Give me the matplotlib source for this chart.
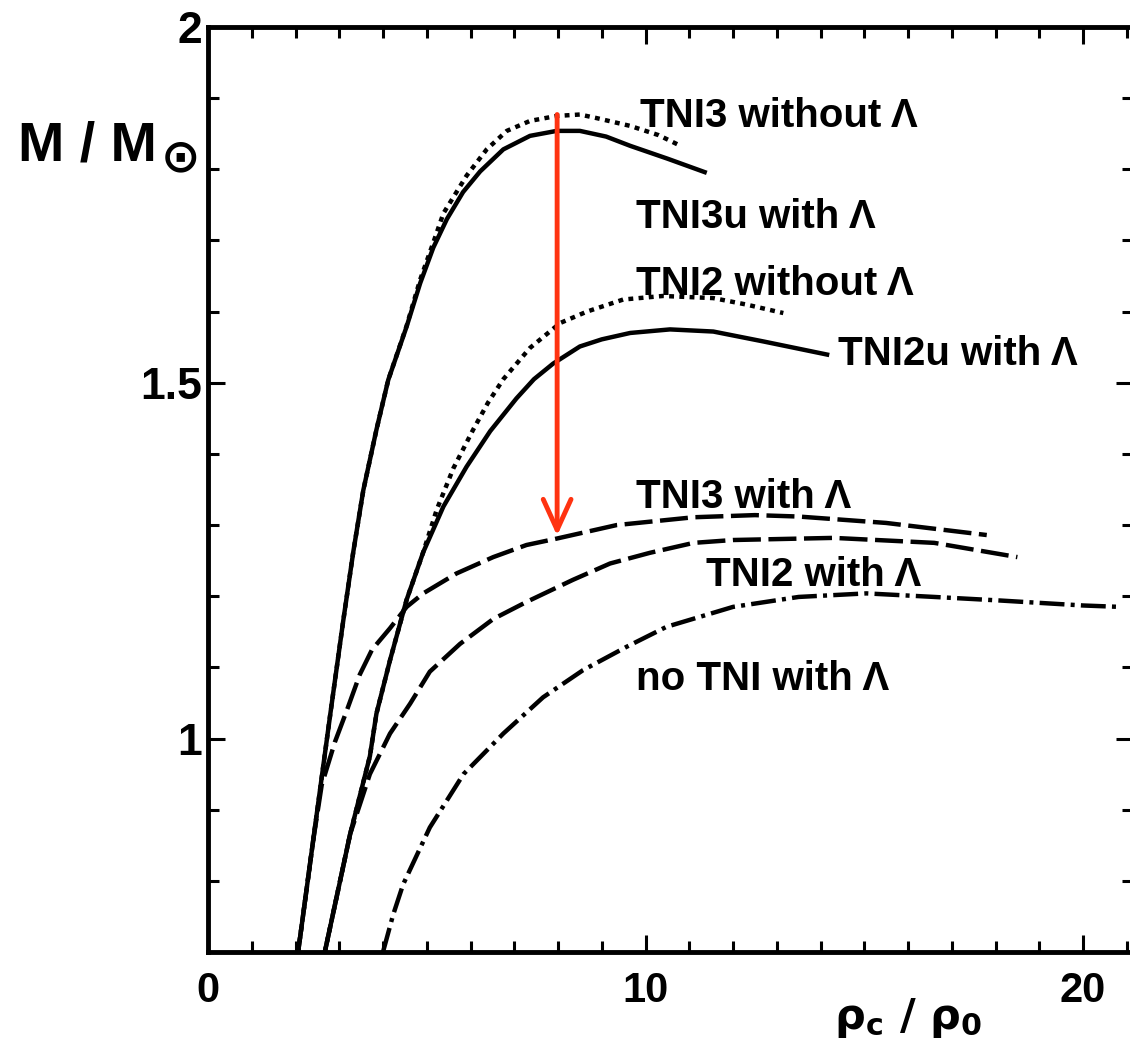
import matplotlib
matplotlib.use("Agg")
import matplotlib.pyplot as plt
from matplotlib.ticker import MultipleLocator, FixedLocator

plt.rcParams['font.family'] = ['Liberation Sans', 'DejaVu Sans']
plt.rcParams['font.weight'] = 'bold'
plt.rcParams['mathtext.fontset'] = 'dejavusans'

# ---------------- data ----------------
# TNI3u with Lambda (solid, upper)
tni3u_x = [2.06, 2.40, 2.79, 3.09, 3.32, 3.55, 3.85, 4.12, 4.54, 4.85, 5.15, 5.46, 5.83, 6.22, 6.75, 7.36, 7.97, 8.50, 9.10, 9.65, 10.5, 11.4]
tni3u_y = [0.70, 0.855, 1.032, 1.165, 1.262, 1.349, 1.434, 1.504, 1.579, 1.640, 1.690, 1.730, 1.768, 1.797, 1.828, 1.847, 1.854, 1.854, 1.846, 1.833, 1.815, 1.795]

# TNI3 without Lambda (dotted, upper)
tni3_x = [2.06, 2.40, 2.79, 3.09, 3.32, 3.55, 3.85, 4.12, 4.54, 4.85, 5.15, 5.38, 5.91, 6.37, 6.83, 7.36, 7.97, 8.50, 8.88, 9.65, 10.3, 10.8]
tni3_y = [0.70, 0.855, 1.032, 1.165, 1.262, 1.349, 1.434, 1.504, 1.580, 1.645, 1.697, 1.738, 1.791, 1.828, 1.854, 1.868, 1.875, 1.877, 1.872, 1.861, 1.848, 1.833]

# TNI2 without Lambda (dotted, lower)
tni2_x = [2.67, 3.25, 3.70, 3.85, 4.16, 4.54, 4.92, 5.23, 5.61, 6.06, 6.40, 6.75, 7.36, 8.05, 8.66, 9.49, 10.4, 11.55, 12.3, 13.15]
tni2_y = [0.70, 0.866, 0.975, 1.035, 1.110, 1.195, 1.262, 1.322, 1.380, 1.434, 1.472, 1.505, 1.549, 1.584, 1.600, 1.617, 1.622, 1.619, 1.610, 1.598]

# TNI2u with Lambda (solid, lower)
tni2u_x = [2.67, 3.25, 3.70, 3.85, 4.16, 4.54, 4.92, 5.38, 5.91, 6.45, 7.05, 7.45, 7.89, 8.50, 9.00, 9.65, 10.56, 11.55, 12.7, 14.2]
tni2u_y = [0.70, 0.866, 0.975, 1.035, 1.110, 1.195, 1.262, 1.326, 1.382, 1.432, 1.478, 1.505, 1.527, 1.551, 1.561, 1.570, 1.575, 1.572, 1.558, 1.539]

# TNI3 with Lambda (dashed, upper)
tni3l_x = [2.06, 2.40, 2.60, 2.90, 3.17, 3.47, 3.75, 4.16, 4.54, 4.92, 5.68, 6.52, 7.28, 7.97, 9.34, 11.1, 12.5, 13.5, 15.5, 17.8]
tni3l_y = [0.70, 0.855, 0.935, 0.995, 1.039, 1.090, 1.125, 1.155, 1.185, 1.204, 1.232, 1.255, 1.272, 1.281, 1.300, 1.311, 1.314, 1.312, 1.303, 1.286]

# TNI2 with Lambda (dashed, lower)
tni2l_x = [2.67, 3.25, 3.70, 4.16, 4.62, 5.07, 5.76, 6.52, 7.28, 8.34, 9.19, 10.1, 11.1, 12.0, 14.3, 16.6, 18.5]
tni2l_y = [0.70, 0.866, 0.950, 1.007, 1.049, 1.094, 1.133, 1.168, 1.192, 1.223, 1.246, 1.261, 1.275, 1.279, 1.282, 1.275, 1.255]

# no TNI with Lambda (dash-dot)
notni_x = [4.00, 4.23, 4.46, 5.07, 5.84, 6.75, 7.66, 8.57, 9.57, 10.48, 12.0, 13.5, 15.05, 16.6, 18.1, 20.0, 20.85]
notni_y = [0.70, 0.752, 0.795, 0.875, 0.950, 1.007, 1.058, 1.096, 1.129, 1.157, 1.185, 1.199, 1.204, 1.199, 1.194, 1.187, 1.185]

curve_labels = ["TNI3 without \u039b", "TNI3u with \u039b", "TNI2 without \u039b",
                "TNI2u with \u039b", "TNI3 with \u039b", "TNI2 with \u039b", "no TNI with \u039b"]

x_ticklabels = ["0", "10", "20"]
y_ticklabels = ["1", "1.5", "2"]

# arrow (TNI3 peak -> TNI3 with Lambda)
arrow_x = 7.98
arrow_from = 1.877
arrow_to = 1.285

# ---------------- figure ----------------
W, H = 1130, 1040
fig = plt.figure(figsize=(W / 100, H / 100), dpi=100)
left_px, right_px, top_px, bot_px = 208, 1133, 27, 952
ax = fig.add_axes([left_px / W, 1 - bot_px / H, (right_px - left_px) / W, (bot_px - top_px) / H])

lw = 3.2
common = dict(color='black', lw=lw, solid_capstyle='butt', dash_capstyle='butt', solid_joinstyle='round')
ax.plot(tni3u_x, tni3u_y, **common)
ax.plot(tni2u_x, tni2u_y, **common)
ax.plot(tni3_x, tni3_y, dashes=(1.1, 1.2), **common)
ax.plot(tni2_x, tni2_y, dashes=(1.1, 1.2), **common)
ax.plot(tni3l_x, tni3l_y, dashes=(6.3, 1.7), **common)
ax.plot(tni2l_x, tni2l_y, dashes=(6.3, 1.7), **common)
ax.plot(notni_x, notni_y, dashes=(5.6, 1.4, 0.9, 1.4), **common)

ax.set_xlim(0, (right_px - left_px) / 43.75)
ax.set_ylim(0.7, 2.0)

# label positions (left edge, baseline) in data coords
label_pos = [(9.87, 1.859), (9.78, 1.718), (9.78, 1.624), (14.4, 1.525),
             (9.78, 1.324), (11.38, 1.215), (9.78, 1.068)]
for txt, (lx, ly) in zip(curve_labels, label_pos):
    ax.text(lx, ly, txt, fontsize=29, fontweight='bold', ha='left', va='baseline')

ax.annotate('', xy=(arrow_x, arrow_to), xytext=(arrow_x, arrow_from),
            arrowprops=dict(arrowstyle='->,head_length=1.1,head_width=0.5',
                            color='#ff3311', lw=3.5, shrinkA=0, shrinkB=0,
                            mutation_scale=20))

# ticks
ax.xaxis.set_major_locator(FixedLocator([0, 10, 20]))
ax.xaxis.set_minor_locator(MultipleLocator(1))
ax.set_xticklabels(x_ticklabels)
ax.yaxis.set_major_locator(FixedLocator([1.0, 1.5, 2.0]))
ax.yaxis.set_minor_locator(MultipleLocator(0.1))
ax.set_yticklabels(y_ticklabels)
ax.tick_params(which='both', direction='in', top=True, right=True, width=2.2, color='black')
ax.tick_params(which='major', length=12)
ax.tick_params(which='minor', length=8)
ax.tick_params(axis='x', which='major', pad=14, labelsize=30)
ax.tick_params(axis='y', which='major', pad=4, labelsize=32)
for lab in ax.get_xticklabels() + ax.get_yticklabels():
    lab.set_fontweight('bold')

for side in ['left', 'bottom', 'top']:
    ax.spines[side].set_linewidth(3.5)
ax.spines['right'].set_visible(False)

# axis titles
fig.text(18 / W, 1 - 160 / H, 'M / M', fontsize=40, fontweight='bold', ha='left', va='baseline')
fig.text(181 / W, 1 - 159 / H, '\u2299', fontsize=34, fontweight='bold', ha='center', va='center',
         family=['DejaVu Sans'])
fig.text(834 / W, 1 - 1029 / H, r'$\mathbf{\rho_c\ /\ \rho_0}$', fontsize=31, ha='left', va='baseline')

fig.savefig('out.png', dpi=100, facecolor='white')
